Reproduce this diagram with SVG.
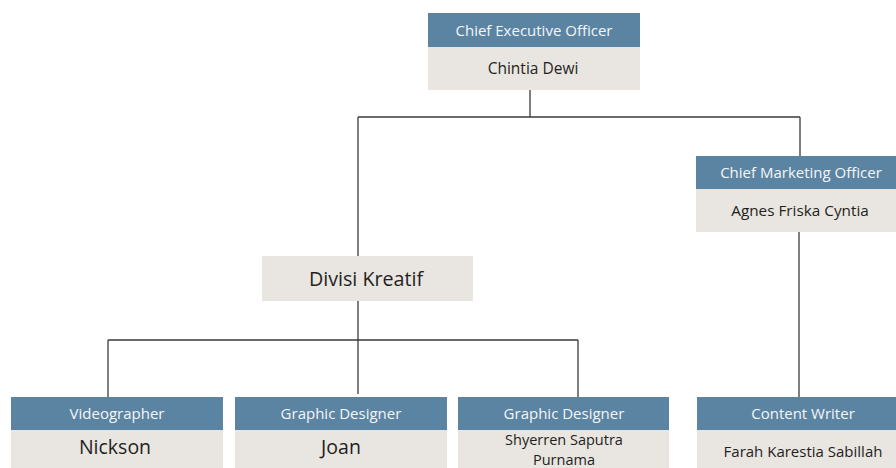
<svg xmlns="http://www.w3.org/2000/svg" width="896" height="468" viewBox="0 0 896 468">
<style>
.hd{fill:#5b84a3}
.bd{fill:#e9e5e1}
.ht{fill:#f4f6f8;font-family:"Open Sans","Noto Sans",sans-serif;font-size:15px;text-anchor:middle}
.bt{fill:#231f20;font-family:"Open Sans","Noto Sans",sans-serif;text-anchor:middle}
.ln{fill:none;stroke:#3a3a3a;stroke-width:1.3}
</style>
<rect width="896" height="468" fill="#ffffff"/>
<g id="connectors">
<path class="ln" d="M530 90V117M358 117H800M358 117V256M800 117V156"/>
<path class="ln" d="M358 301V394M108 340H578M108 340V397M578 340V397"/>
<path class="ln" d="M799 232V397"/>
</g>
<g id="ceo">
<rect class="hd" x="428" y="13" width="212" height="34"/>
<rect class="bd" x="428" y="47" width="212" height="43"/>
<text class="ht" x="534" y="36">Chief Executive Officer</text>
<text class="bt" x="533" y="74" font-size="15.5">Chintia Dewi</text>
</g>
<g id="cmo">
<rect class="hd" x="696" y="156" width="200" height="33"/>
<rect class="bd" x="696" y="189" width="200" height="43"/>
<text class="ht" x="801" y="178">Chief Marketing Officer</text>
<text class="bt" x="800" y="216" font-size="15.3">Agnes Friska Cyntia</text>
</g>
<g id="kreatif">
<rect class="bd" x="262" y="256" width="211" height="45"/>
<text class="bt" x="366" y="286" font-size="19.7">Divisi Kreatif</text>
</g>
<g id="videographer">
<rect class="hd" x="11" y="397" width="212" height="33"/>
<rect class="bd" x="11" y="430" width="212" height="38"/>
<text class="ht" x="117" y="419">Videographer</text>
<text class="bt" x="115" y="454" font-size="19.5">Nickson</text>
</g>
<g id="designer1">
<rect class="hd" x="235" y="397" width="212" height="33"/>
<rect class="bd" x="235" y="430" width="212" height="38"/>
<text class="ht" x="341" y="419">Graphic Designer</text>
<text class="bt" x="341" y="454" font-size="19.5">Joan</text>
</g>
<g id="designer2">
<rect class="hd" x="458" y="397" width="211" height="33"/>
<rect class="bd" x="458" y="430" width="211" height="38"/>
<text class="ht" x="564" y="419">Graphic Designer</text>
<text class="bt" x="564" y="445" font-size="14.5">Shyerren Saputra</text>
<text class="bt" x="564" y="465" font-size="14.5">Purnama</text>
</g>
<g id="writer">
<rect class="hd" x="697" y="397" width="199" height="33"/>
<rect class="bd" x="697" y="430" width="199" height="38"/>
<text class="ht" x="803" y="419">Content Writer</text>
<text class="bt" x="803" y="457" font-size="15">Farah Karestia Sabillah</text>
</g>
</svg>
